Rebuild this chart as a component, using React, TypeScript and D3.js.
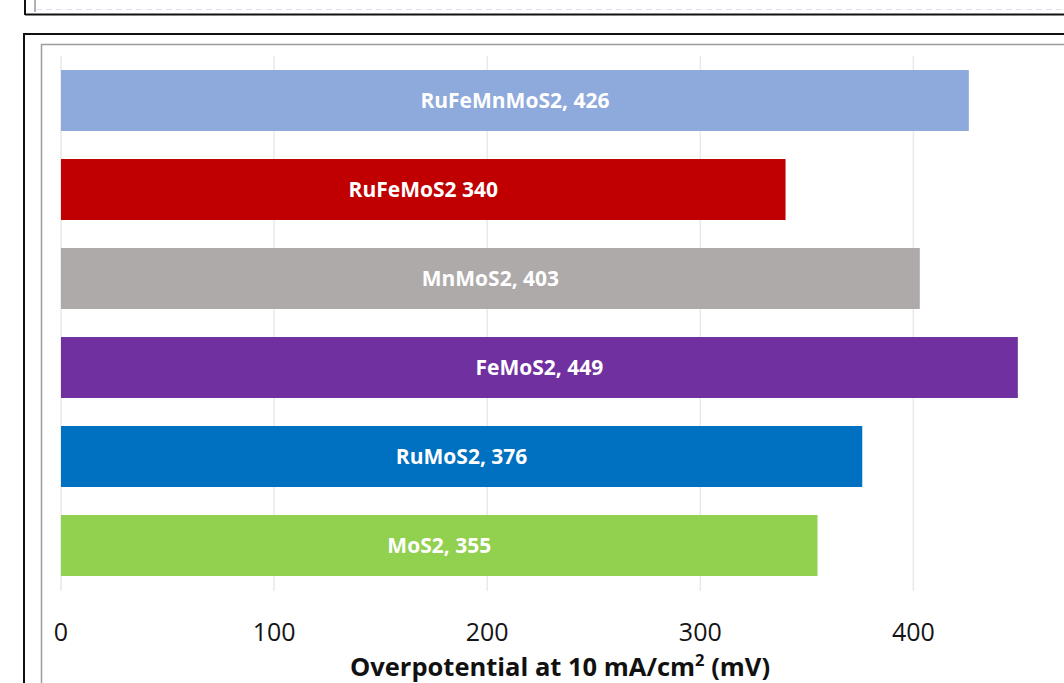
import React from "react";
import * as d3 from "d3";

const categories = ["RuFeMnMoS2", "RuFeMoS2", "MnMoS2", "FeMoS2", "RuMoS2", "MoS2"];
const values = [426, 340, 403, 449, 376, 355];
const barLabels = ["RuFeMnMoS2, 426", "RuFeMoS2 340", "MnMoS2, 403", "FeMoS2, 449", "RuMoS2, 376", "MoS2, 355"];
const colors = ["#8EA9DB", "#C00000", "#AEAAAA", "#7030A0", "#0070C0", "#92D050"];
const ticks = [0, 100, 200, 300, 400];

const W = 1064;
const H = 683;
const FONT = "'Open Sans', 'Noto Sans', sans-serif";

export default function App() {
  const x = d3.scaleLinear().domain([0, 100]).range([61, 274.1]);
  const y = d3
    .scaleBand<string>()
    .domain(categories)
    .range([56, 590])
    .paddingInner(0.315)
    .paddingOuter(0.1575);

  return (
    <svg
      width={W}
      height={H}
      style={{ position: "absolute", left: 0, top: 0, background: "#fff" }}
    >
      {/* remnant of the chart above */}
      <line x1={35} y1={0} x2={35} y2={12} stroke="#9a9a9a" strokeWidth={1.5} />
      <line x1={36} y1={9.5} x2={W} y2={9.5} stroke="#dde2f2" strokeWidth={1} strokeDasharray="6 4" />
      <line x1={25} y1={0} x2={25} y2={15} stroke="#111" strokeWidth={2} />
      <line x1={25} y1={14.5} x2={W} y2={14.5} stroke="#111" strokeWidth={2} />

      {/* frames */}
      <rect x={24} y={34} width={W + 20} height={H + 20} fill="none" stroke="#111" strokeWidth={2} />
      <rect x={41.5} y={44.5} width={W + 20} height={H + 20} fill="none" stroke="#9c9c9c" strokeWidth={1.5} />

      {/* gridlines */}
      {ticks.map((t) => (
        <line
          key={"g" + t}
          x1={x(t)}
          x2={x(t)}
          y1={56}
          y2={591}
          stroke="#e9e9e9"
          strokeWidth={1.5}
        />
      ))}

      {/* bars */}
      {categories.map((c, i) => (
        <g key={c}>
          <rect
            x={x(0)}
            y={y(c)}
            width={x(values[i]) - x(0)}
            height={y.bandwidth()}
            fill={colors[i]}
          />
          <text
            x={(x(0) + x(values[i])) / 2}
            y={(y(c) as number) + y.bandwidth() / 2}
            dy="0.36em"
            textAnchor="middle"
            fill="#fff"
            fontFamily={FONT}
            fontWeight={700}
            fontSize={21}
          >
            {barLabels[i]}
          </text>
        </g>
      ))}

      {/* tick labels */}
      {ticks.map((t) => (
        <text
          key={"t" + t}
          x={x(t)}
          y={640.5}
          textAnchor="middle"
          fill="#141414"
          fontFamily={FONT}
          fontSize={25}
        >
          {t}
        </text>
      ))}

      {/* axis title */}
      <text
        x={560}
        y={675.5}
        textAnchor="middle"
        fill="#111"
        fontFamily={FONT}
        fontWeight={700}
        fontSize={25.5}
      >
        Overpotential at 10 mA/cm
        <tspan dy={-10} fontSize={16.5}>2</tspan>
        <tspan dy={10}> (mV)</tspan>
      </text>
    </svg>
  );
}
